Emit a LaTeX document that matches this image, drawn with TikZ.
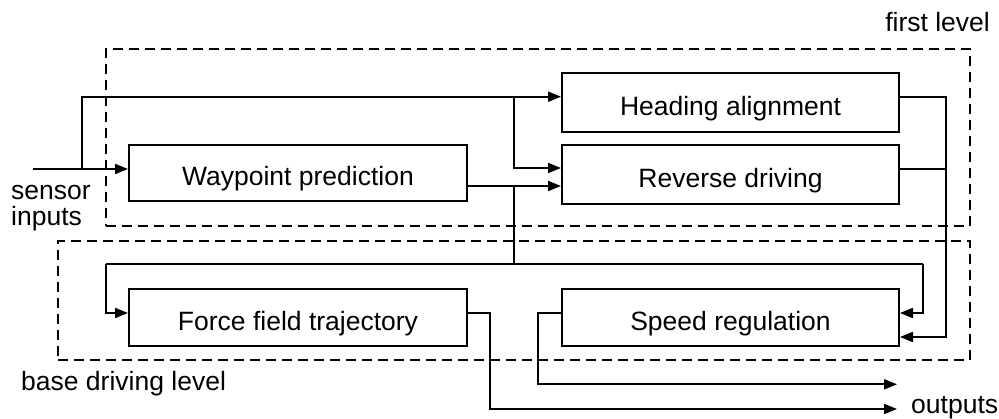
\documentclass[tikz,border=0pt]{standalone}
\usepackage{fontspec}
\setmainfont{Liberation Sans}
\usetikzlibrary{arrows.meta}
\begin{document}
\begin{tikzpicture}[x=1pt,y=-1pt,
  every node/.style={font=\fontsize{26.5}{26}\selectfont},
  block/.style={draw, line width=2pt, rectangle, inner sep=0pt, text height=26pt, text depth=0pt},
  level/.style={draw, line width=2pt, dash pattern=on 10pt off 6pt, rectangle, inner sep=0pt},
  link/.style={line width=2pt},
  arr/.style={link, -{Triangle[length=13pt,width=10pt]}},
  lbl/.style={inner sep=0pt}]
\useasboundingbox (0,0) rectangle (999,419);

% level frames
\node[level, minimum width=864pt, minimum height=177pt] (first) at (538,137.5) {};
\node[level, minimum width=912pt, minimum height=119pt] (base) at (514,300.5) {};

% blocks
\node[block, minimum width=337pt, minimum height=59pt] (ha) at (730.5,102.5) {Heading alignment};
\node[block, minimum width=337pt, minimum height=59pt] (rd) at (730.5,174.5) {Reverse driving};
\node[block, minimum width=338pt, minimum height=56pt] (wp) at (298,173) {Waypoint prediction};
\node[block, minimum width=338pt, minimum height=57pt] (ff) at (298,317.5) {Force field trajectory};
\node[block, minimum width=337pt, minimum height=57pt] (sr) at (730.5,317.5) {Speed regulation};

% labels
\node[lbl, anchor=base east] (lfirst) at (990,31.5) {first level};
\node[lbl, anchor=base west, align=left] (lsens) at (11,225.5) {sensor\\inputs};
\node[lbl, anchor=base west] (lbase) at (21,391) {base driving level};
\node[lbl, anchor=base west] (lout) at (911,414) {outputs};

% junctions and turning points
\coordinate (src) at (33,169);
\coordinate (j1) at (81.7,169);
\coordinate (j2) at (514,96.7);
\coordinate (bus) at (514,264);
\coordinate (busL) at (106,264);
\coordinate (busR) at (922.7,264);
\coordinate (col) at (946,96.7);
\coordinate (t1) at (490,409);
\coordinate (outB) at (897,409);
\coordinate (t2) at (538,384.3);
\coordinate (outA) at (897,384.3);
\coordinate (wpo) at ([yshift=-13pt]wp.east);
\coordinate (j3) at (bus |- wpo);
\coordinate (rdo) at ([yshift=5.8pt]rd.east);

% sensor inputs
\draw[arr] (src) -- (wp.west |- src);
\draw[arr] (j1) |- (ha.west |- j2);
\draw[arr] (j2) |- ([yshift=6.5pt]rd.west);

% waypoint prediction output
\draw[arr] (wpo) -- (rd.west |- wpo);
\draw[link] (j3) -- (bus);
\draw[link] (busL) -- (busR);
\draw[arr] (busL) |- ([yshift=4.5pt]ff.west);
\draw[arr] (busR) |- ([yshift=4.5pt]sr.east);

% first level outputs into speed regulation
\draw[arr] ([yshift=5.8pt]ha.east) -| (col) |- ([yshift=-19.5pt]sr.east);
\draw[link] (rdo) -- (col |- rdo);

% outputs
\draw[arr] ([yshift=4.8pt]ff.east) -| (t1) -- (outB);
\draw[arr] ([yshift=4.5pt]sr.west) -| (t2) -- (outA);
\end{tikzpicture}
\end{document}
